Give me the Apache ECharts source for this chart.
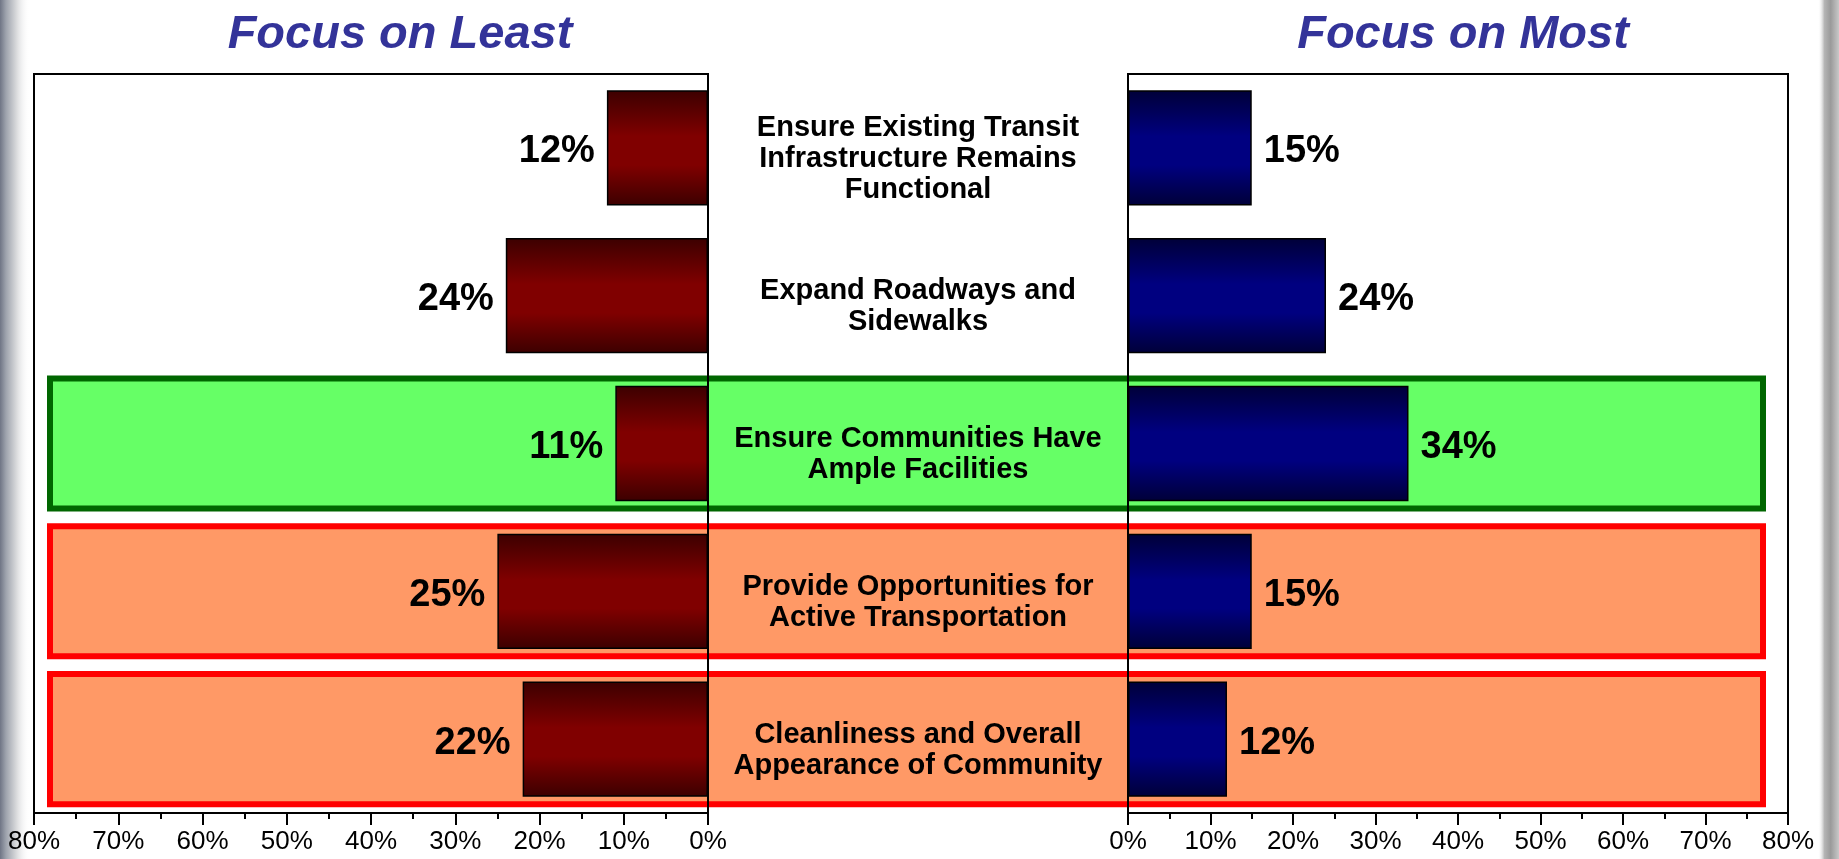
<!DOCTYPE html>
<html>
<head>
<meta charset="utf-8">
<script src="https://cdn.jsdelivr.net/npm/echarts@6/dist/echarts.min.js"></script>
<style>
  html, body { margin: 0; padding: 0; background: #fff; }
  #main { width: 1839px; height: 859px; }
</style>
</head>
<body>
<div id="main"></div>
<script>
const categories = [
  'Ensure Existing Transit\nInfrastructure Remains\nFunctional',
  'Expand Roadways and\nSidewalks',
  'Ensure Communities Have\nAmple Facilities',
  'Provide Opportunities for\nActive Transportation',
  'Cleanliness and Overall\nAppearance of Community'
];
const leastValues = [12, 24, 11, 25, 22];
const mostValues = [15, 24, 34, 15, 12];
// '' = no box, good = green box, bad = red box
const highlightKinds = ['', '', 'good', 'bad', 'bad'];
const titles = ['Focus on Least', 'Focus on Most'];

const font = "'Liberation Sans', Arial, sans-serif";

const chart = echarts.init(document.getElementById('main'));

const barGradient = (edge, mid) => new echarts.graphic.LinearGradient(0, 0, 0, 1, [
  { offset: 0, color: edge },
  { offset: 0.4, color: mid },
  { offset: 0.65, color: mid },
  { offset: 1, color: edge }
]);

const boxStyle = {
  good: { fill: '#66ff66', stroke: '#006600' },
  bad: { fill: '#ff9966', stroke: '#ff0000' }
};

const valueAxis = (gridIndex, inverse) => ({
  type: 'value',
  gridIndex: gridIndex,
  min: 0,
  max: 80,
  interval: 10,
  inverse: inverse,
  axisLine: { show: true, lineStyle: { color: '#000', width: 2 } },
  axisTick: { show: true, length: 12, lineStyle: { color: '#000', width: 2 } },
  minorTick: { show: true, splitNumber: 2, length: 6, lineStyle: { color: '#000', width: 2 } },
  splitLine: { show: false },
  minorSplitLine: { show: false },
  axisLabel: {
    formatter: '{value}%',
    fontSize: 26,
    color: '#000',
    fontFamily: font,
    margin: 16
  }
});

const valueLabel = (pos) => ({
  show: true, position: pos, distance: 12, offset: [0, 4], formatter: '{c}%',
  fontSize: 38, fontWeight: 'bold', color: '#000', fontFamily: font
});

const option = {
  animation: false,
  backgroundColor: '#fff',
  textStyle: { fontFamily: font },
  graphic: [
    {
      type: 'rect', silent: true, z: -10,
      shape: { x: 0, y: 0, width: 30, height: 859 },
      style: { fill: new echarts.graphic.LinearGradient(0, 0, 1, 0, [
        { offset: 0, color: '#6f7585' },
        { offset: 0.2, color: '#9ea3ad' },
        { offset: 0.55, color: '#d9dadc' },
        { offset: 1, color: 'rgba(255,255,255,0)' }
      ]) }
    },
    {
      type: 'rect', silent: true, z: -10,
      shape: { x: 1818, y: 0, width: 21, height: 859 },
      style: { fill: new echarts.graphic.LinearGradient(0, 0, 1, 0, [
        { offset: 0, color: 'rgba(255,255,255,0)' },
        { offset: 0.3, color: '#b5b5b5' },
        { offset: 0.6, color: '#9a9a9a' },
        { offset: 1, color: '#c8c8c8' }
      ]) }
    },
    {
      type: 'text', x: 400, y: 35,
      style: {
        text: titles[0], fill: '#333399', font: 'italic bold 47px ' + font,
        textAlign: 'center', textVerticalAlign: 'middle'
      }
    },
    {
      type: 'text', x: 1463, y: 35,
      style: {
        text: titles[1], fill: '#333399', font: 'italic bold 47px ' + font,
        textAlign: 'center', textVerticalAlign: 'middle'
      }
    }
  ],
  grid: [
    { left: 34, width: 674, top: 74, height: 739, show: true, backgroundColor: '#fff', borderColor: '#000', borderWidth: 2 },
    { left: 1128, width: 660, top: 74, height: 739, show: true, backgroundColor: '#fff', borderColor: '#000', borderWidth: 2 },
    { left: 50, width: 1713, top: 74, height: 739, show: false },
    // category labels sit a little lower than the bar centres
    { left: 1128, width: 660, top: 85, height: 739, show: false }
  ],
  xAxis: [
    valueAxis(0, true),
    valueAxis(1, false),
    { type: 'value', gridIndex: 2, min: 0, max: 1, show: false },
    { type: 'value', gridIndex: 3, min: 0, max: 1, show: false }
  ],
  yAxis: [
    {
      type: 'category', gridIndex: 0, data: categories, inverse: true, position: 'right', z: 5,
      axisLine: { show: true, lineStyle: { color: '#000', width: 2 } },
      axisTick: { show: false }, axisLabel: { show: false }
    },
    {
      type: 'category', gridIndex: 1, data: categories, inverse: true, position: 'left', z: 5,
      axisLine: { show: true, lineStyle: { color: '#000', width: 2 } },
      axisTick: { show: false }, axisLabel: { show: false }
    },
    { type: 'category', gridIndex: 2, data: categories, inverse: true, show: false },
    {
      type: 'category', gridIndex: 3, data: categories, inverse: true, position: 'left', z: 5,
      axisLine: { show: false },
      axisTick: { show: false },
      axisLabel: {
        interval: 0,
        margin: 210,
        align: 'center',
        fontSize: 29,
        fontWeight: 'bold',
        lineHeight: 31,
        color: '#000',
        fontFamily: font
      }
    }
  ],
  series: [
    {
      type: 'custom',
      xAxisIndex: 2,
      yAxisIndex: 2,
      z: 1,
      silent: true,
      data: highlightKinds.map((k, i) => [0, i]),
      renderItem: (params, api) => {
        const kind = highlightKinds[params.dataIndex];
        if (!kind) return;
        const c = api.coord([0, api.value(1)]);
        const h = api.size([0, 1])[1] * 0.88;
        const cs = params.coordSys;
        return {
          type: 'rect',
          shape: { x: cs.x, y: c[1] - h / 2, width: cs.width, height: h },
          style: { fill: boxStyle[kind].fill, stroke: boxStyle[kind].stroke, lineWidth: 6 }
        };
      }
    },
    {
      name: 'Focus on Least',
      type: 'bar',
      xAxisIndex: 0,
      yAxisIndex: 0,
      z: 3,
      data: leastValues,
      barCategoryGap: '22%',
      itemStyle: { color: barGradient('#3c0000', '#800000'), borderColor: '#000', borderWidth: 1.5 },
      label: valueLabel('left')
    },
    {
      name: 'Focus on Most',
      type: 'bar',
      xAxisIndex: 1,
      yAxisIndex: 1,
      z: 3,
      data: mostValues,
      barCategoryGap: '22%',
      itemStyle: { color: barGradient('#000038', '#000080'), borderColor: '#000', borderWidth: 1.5 },
      label: valueLabel('right')
    }
  ]
};

chart.setOption(option);
</script>
</body>
</html>
